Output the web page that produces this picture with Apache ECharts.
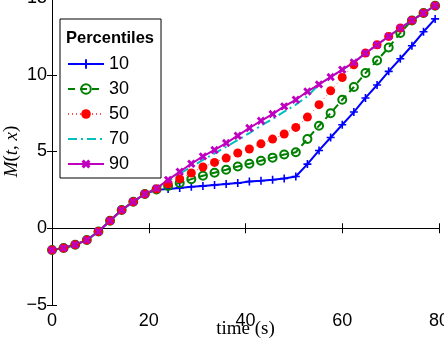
<!DOCTYPE html>
<html>
<head>
<meta charset="utf-8">
<script src="https://cdn.jsdelivr.net/npm/echarts@6/dist/echarts.min.js"></script>
<style>
html, body { margin: 0; padding: 0; background: #fff; }
#chartBox { width: 444px; height: 342px; }
</style>
</head>
<body>
<div id="chartBox"></div>
<script>
// time axis (s)
const timeS = [0, 2.4, 4.8, 7.2, 9.6, 12, 14.4, 16.8, 19.2, 21.6,
  24, 26.4, 28.8, 31.2, 33.6, 36, 38.4, 40.8, 43.2, 45.6,
  48, 50.4, 52.8, 55.2, 57.6, 60, 62.4, 64.8, 67.2, 69.6,
  72, 74.4, 76.8, 79.2];

// M(t,x) for each percentile
const p10 = [-1.42, -1.29, -1.07, -0.77, -0.21, 0.49, 1.19, 1.73, 2.23, 2.5,
  2.56, 2.63, 2.7, 2.76, 2.82, 2.88, 2.94, 3.05, 3.09, 3.16,
  3.24, 3.37, 4.18, 5.07, 5.91, 6.74, 7.57, 8.49, 9.33, 10.22,
  11.04, 11.89, 12.8, 13.64];
const p30 = [-1.42, -1.29, -1.07, -0.77, -0.21, 0.49, 1.19, 1.73, 2.23, 2.52,
  2.75, 2.95, 3.2, 3.42, 3.62, 3.81, 4.02, 4.2, 4.4, 4.6,
  4.8, 4.95, 5.81, 6.68, 7.5, 8.37, 9.2, 10.11, 10.93, 11.78,
  12.72, 13.54, 14.02, 14.5];
const p50 = [-1.42, -1.29, -1.07, -0.77, -0.21, 0.49, 1.19, 1.73, 2.23, 2.55,
  2.9, 3.22, 3.6, 3.99, 4.29, 4.57, 4.9, 5.16, 5.5, 5.81,
  6.14, 6.57, 7.24, 8.05, 8.96, 9.82, 10.65, 11.41, 11.95, 12.5,
  13.04, 13.54, 14.02, 14.5];
const p70 = [-1.42, -1.29, -1.07, -0.77, -0.21, 0.49, 1.19, 1.73, 2.23, 2.57,
  3.05, 3.55, 4.0, 4.45, 4.88, 5.3, 5.75, 6.2, 6.68, 7.12,
  7.6, 8.05, 8.6, 9.37, 9.85, 10.33, 10.8, 11.41, 11.95, 12.5,
  13.04, 13.54, 14.02, 14.5];
const p90 = [-1.42, -1.29, -1.07, -0.77, -0.21, 0.49, 1.19, 1.73, 2.23, 2.6,
  3.15, 3.68, 4.2, 4.68, 5.1, 5.55, 6.03, 6.53, 7.0, 7.44,
  7.94, 8.37, 8.91, 9.37, 9.85, 10.33, 10.8, 11.41, 11.95, 12.5,
  13.04, 13.54, 14.02, 14.5];

const legendNames = ["10", "30", "50", "70", "90"];

const plusPath = "path://M4,0H6V4H10V6H6V10H4V6H0V4H4Z";
const crossPath = "path://M3.4,0H6.6V3.4H10V6.6H6.6V10H3.4V6.6H0V3.4H3.4Z";

function pairs(vals) {
  return vals.map((v, i) => [timeS[i], v]);
}

const chartDom = document.getElementById("chartBox");
const myChart = echarts.init(chartDom);

const axisFont = { color: "#000", fontSize: 18, fontFamily: "Liberation Sans" };
const tick = { show: true, inside: true, length: 5, lineStyle: { color: "#000", width: 1 } };
const line = { show: true, lineStyle: { color: "#000", width: 1 } };

const option = {
  animation: false,
  backgroundColor: "#fff",
  grid: { left: 52, right: 5, top: -2, bottom: 37, outerBoundsMode: "none", containLabel: false },
  xAxis: [
    {
      type: "value", min: 0, max: 80, interval: 20,
      axisLine: line, axisTick: tick, splitLine: { show: false },
      axisLabel: Object.assign({ margin: 7 }, axisFont),
      name: "time (s)", nameLocation: "middle", nameGap: 15, nameMoveOverlap: false,
      nameTextStyle: { color: "#000", fontSize: 19, fontFamily: "Liberation Serif" },
    },
    {
      type: "value", position: "top", min: 0, max: 80, interval: 20,
      axisLine: line, axisTick: tick, splitLine: { show: false },
      axisLabel: { show: false },
    },
  ],
  yAxis: [
    {
      type: "value", min: -5, max: 15, interval: 5,
      axisLine: line, axisTick: tick, splitLine: { show: false },
      axisLabel: Object.assign({
        margin: 5,
        formatter: (v) => String(v).replace("-", "\u2212"),
      }, axisFont),
      name: "{i|M}{n|(}{i|t}{n|, }{i|x}{n|)}", nameLocation: "middle", nameGap: 31,
      nameMoveOverlap: false,
      nameTextStyle: {
        color: "#000", fontSize: 19, fontFamily: "Liberation Serif",
        rich: {
          i: { fontStyle: "italic", fontSize: 19, fontFamily: "Liberation Serif", color: "#000" },
          n: { fontSize: 19, fontFamily: "Liberation Serif", color: "#000" },
        },
      },
    },
    {
      type: "value", position: "right", min: -5, max: 15, interval: 5,
      axisLine: line, axisTick: tick, splitLine: { show: false },
      axisLabel: { show: false },
    },
  ],
  legend: {
    data: [
      { name: legendNames[0] },
      { name: legendNames[1] },
      { name: legendNames[2] },
      { name: legendNames[3], itemStyle: { color: "rgba(0,0,0,0)", borderWidth: 0 } },
      { name: legendNames[4] },
    ],
    orient: "vertical",
    left: 60,
    top: 19,
    padding: [35, 32, 4, 7],
    itemWidth: 36,
    itemHeight: 12,
    itemGap: 5,
    borderColor: "#000",
    borderWidth: 1,
    backgroundColor: "#fff",
    textStyle: { color: "#000", fontSize: 18, lineHeight: 20, fontFamily: "Liberation Sans" },
  },
  graphic: [
    {
      type: "text",
      left: 66,
      top: 30,
      z: 100,
      style: { text: "Percentiles", fill: "#000", font: "bold 16.5px 'Liberation Sans'" },
    },
  ],
  series: [
    {
      name: legendNames[0], type: "line", data: pairs(p10),
      symbol: plusPath, symbolSize: 8,
      lineStyle: { color: "#0000ff", width: 2 },
      itemStyle: { color: "#0000ff" },
    },
    {
      name: legendNames[1], type: "line", data: pairs(p30),
      symbol: "circle", symbolSize: 8,
      lineStyle: { color: "#008000", width: 2, type: [7, 5] },
      itemStyle: { color: "rgba(0,0,0,0)", borderColor: "#008000", borderWidth: 2 },
    },
    {
      name: legendNames[2], type: "line", data: pairs(p50),
      symbol: "circle", symbolSize: 9,
      lineStyle: { color: "#ff5050", width: 1, type: [1, 3] },
      itemStyle: { color: "#ff0000" },
    },
    {
      name: legendNames[3], type: "line", data: pairs(p70),
      symbol: "none",
      lineStyle: { color: "#00bfbf", width: 2, type: [9, 4, 2, 4] },
      itemStyle: { color: "#00bfbf" },
    },
    {
      name: legendNames[4], type: "line", data: pairs(p90),
      symbol: crossPath, symbolSize: 9, symbolRotate: 45,
      lineStyle: { color: "#bf00bf", width: 2 },
      itemStyle: { color: "#bf00bf" },
    },
  ],
};

option && myChart.setOption(option);
</script>
</body>
</html>
